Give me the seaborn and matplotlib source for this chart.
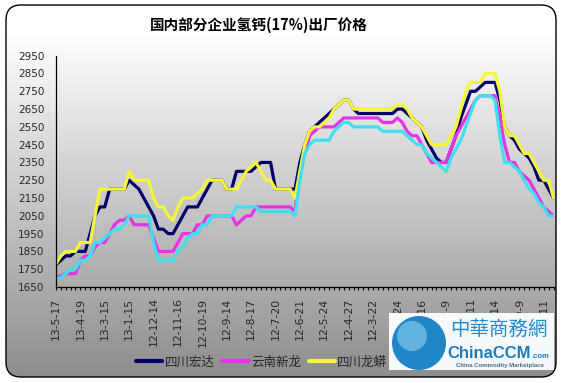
import numpy as np
import pandas as pd
import seaborn as sns
import matplotlib.pyplot as plt
from matplotlib.patches import FancyBboxPatch, Rectangle, Circle
from matplotlib.lines import Line2D

## Data (newest date first, as on the source chart)
date_labels = ['13-5-17', '13-4-19', '13-3-15', '13-1-15', '12-12-14', '12-11-16',
               '12-10-19', '12-9-14', '12-8-17', '12-7-20', '12-6-21', '12-5-24',
               '12-4-27', '12-3-22', '12-2-24', '12-1-16', '11-12-9', '11-11-11',
               '11-10-14', '11-9-9', '11-8-11']

hongda = [1775, 1800, 1825, 1825, 1850, 1850, 1850, 1950, 2050, 2100,
          2100, 2200, 2200, 2200, 2200, 2250, 2225, 2200, 2150, 2100,
          2050, 1975, 1975, 1950, 1950, 2000, 2050, 2100, 2100, 2100,
          2150, 2200, 2250, 2250, 2250, 2200, 2200, 2300, 2300, 2300,
          2300, 2325, 2350, 2350, 2350, 2200, 2200, 2200, 2200, 2200,
          2350, 2450, 2525, 2550, 2575, 2600, 2625, 2650, 2675, 2700,
          2700, 2650, 2625, 2625, 2625, 2625, 2625, 2625, 2625, 2625,
          2650, 2650, 2625, 2600, 2575, 2550, 2475, 2425, 2375, 2350,
          2350, 2425, 2500, 2600, 2675, 2750, 2750, 2775, 2800, 2800,
          2800, 2700, 2550, 2500, 2475, 2425, 2400, 2375, 2325, 2250,
          2250, 2200, 2150]

xinlong = [1710, 1710, 1725, 1725, 1725, 1800, 1825, 1825, 1875, 1900,
           1900, 1950, 2000, 2025, 2025, 2050, 2000, 2000, 2000, 2000,
           1925, 1850, 1850, 1850, 1850, 1900, 1950, 1950, 1950, 2000,
           2000, 2050, 2050, 2050, 2050, 2050, 2050, 2000, 2025, 2050,
           2050, 2100, 2100, 2100, 2100, 2100, 2100, 2100, 2100, 2075,
           2300, 2400, 2500, 2525, 2550, 2550, 2550, 2550, 2575, 2600,
           2600, 2600, 2600, 2600, 2600, 2600, 2600, 2575, 2575, 2575,
           2600, 2575, 2525, 2500, 2500, 2450, 2400, 2350, 2350, 2350,
           2350, 2425, 2500, 2550, 2600, 2650, 2700, 2725, 2725, 2725,
           2725, 2600, 2450, 2350, 2350, 2300, 2275, 2250, 2200, 2150,
           2100, 2075, 2050]

longmang = [1780, 1825, 1850, 1850, 1850, 1900, 1900, 1900, 2050, 2200,
            2200, 2200, 2200, 2200, 2200, 2300, 2250, 2250, 2250, 2250,
            2150, 2100, 2100, 2050, 2025, 2100, 2150, 2150, 2150, 2175,
            2200, 2250, 2250, 2250, 2250, 2200, 2200, 2200, 2250, 2300,
            2325, 2350, 2300, 2250, 2250, 2200, 2200, 2200, 2200, 2150,
            2300, 2450, 2525, 2550, 2550, 2575, 2600, 2650, 2675, 2700,
            2700, 2650, 2650, 2650, 2650, 2650, 2650, 2650, 2650, 2650,
            2675, 2675, 2650, 2600, 2575, 2550, 2500, 2450, 2450, 2450,
            2450, 2500, 2550, 2650, 2750, 2800, 2800, 2800, 2850, 2850,
            2850, 2750, 2550, 2500, 2500, 2450, 2400, 2400, 2350, 2300,
            2250, 2250, 2150]

# fourth series: its legend entry is hidden behind the watermark
series4 = [1700, 1700, 1725, 1750, 1750, 1800, 1800, 1825, 1900, 1900,
           1925, 1950, 1975, 1975, 2000, 2050, 2050, 2050, 2050, 2050,
           1900, 1800, 1800, 1800, 1800, 1850, 1875, 1925, 1950, 1950,
           2000, 2000, 2050, 2050, 2050, 2050, 2050, 2100, 2100, 2100,
           2100, 2100, 2075, 2075, 2075, 2075, 2075, 2075, 2075, 2050,
           2250, 2400, 2450, 2475, 2475, 2475, 2475, 2525, 2550, 2575,
           2575, 2550, 2550, 2550, 2550, 2550, 2550, 2525, 2525, 2525,
           2525, 2525, 2500, 2475, 2450, 2450, 2400, 2375, 2350, 2325,
           2300, 2375, 2425, 2475, 2550, 2625, 2700, 2725, 2725, 2725,
           2700, 2500, 2350, 2350, 2325, 2300, 2250, 2200, 2175, 2125,
           2100, 2050, 2050]

names = ['四川宏达', '云南新龙', '四川龙蟒', 'series4']
colors = ['#000066', '#e633e6', '#f5f53a', '#3fe0ee']

n = len(hongda)
df = pd.DataFrame({'idx': np.tile(np.arange(n), 4),
                   'price': hongda + xinlong + longmang + series4,
                   'company': np.repeat(names, n)})

sns.set_theme(style='white')
plt.rcParams['font.family'] = ['Noto Sans CJK SC', 'DejaVu Sans']

fig = plt.figure(figsize=(5.64, 3.83), dpi=100)

## gradient background inside rounded frame
bg = fig.add_axes([0, 0, 1, 1], zorder=0)
bg.set_axis_off()
bg.set_xlim(0, 564)
bg.set_ylim(383, 0)
shade = np.clip(1.0 - (np.arange(383) - 30) / 348 * 0.45, 0.55, 1.0)
img = bg.imshow(shade[:, None], extent=(0, 564, 383, 0), cmap='gray', vmin=0, vmax=1,
                aspect='auto')
frame = FancyBboxPatch((6, 5), 550, 372, boxstyle='round,pad=0,rounding_size=15',
                       facecolor='none', edgecolor='black', linewidth=1.0)
bg.add_patch(frame)
img.set_clip_path(frame)

fig.text(259 / 564, 1 - 24.5 / 383, '国内部分企业氢钙(17%)出厂价格', ha='center', va='center',
         fontsize=10.5, fontweight='bold', color='black')

## main plot
ax = fig.add_axes([55.5 / 564, 1 - 287 / 383, 498 / 564, (287 - 55.7) / 383], zorder=1)
ax.patch.set_alpha(0)
sns.lineplot(data=df, x='idx', y='price', hue='company', hue_order=names,
             palette=colors, linewidth=2.3, errorbar=None, legend=False, ax=ax)

ax.set_xlim(-0.1, n - 1)
ax.set_ylim(1650, 2950)
ax.set_yticks(np.arange(1650, 2951, 100))
ax.set_xticks(np.arange(0, n, 5))
ax.set_xticklabels(date_labels, rotation=90, family=['DejaVu Sans'])
ax.set_yticklabels([str(v) for v in range(1650, 2951, 100)], family=['DejaVu Sans'])
ax.set_xticks(np.arange(n), minor=True)
ax.tick_params(axis='x', which='both', direction='out', length=2.5, width=0.8,
               color='black', bottom=True, labelsize=7.8, pad=5)
ax.tick_params(axis='y', length=0, labelsize=7.5, pad=8)
ax.set_xlabel('')
ax.set_ylabel('')
for s in ['top', 'right']:
    ax.spines[s].set_visible(False)
for s in ['left', 'bottom']:
    ax.spines[s].set_color('black')
    ax.spines[s].set_linewidth(0.9)

## legend (three visible entries)
handles = [Line2D([], [], color=c, linewidth=3) for c in colors[:3]]
fig.legend(handles, names[:3], loc='center left', bbox_to_anchor=(131 / 564, 1 - 362 / 383),
           ncol=3, frameon=False, fontsize=9, handlelength=2.1, handletextpad=0.2,
           columnspacing=0.6, borderaxespad=0)

## watermark
ov = fig.add_axes([0, 0, 1, 1], zorder=3)
ov.set_axis_off()
ov.set_xlim(0, 564)
ov.set_ylim(383, 0)
ov.add_patch(Rectangle((389, 313), 165, 57, facecolor='#f6f9fc', edgecolor='none'))
ov.add_patch(Circle((419, 343), 27, facecolor='#1f86c8', edgecolor='none'))
ov.add_patch(Circle((412, 336), 15, facecolor='#8fd0f0', edgecolor='none', alpha=0.6))
ov.text(499, 329, '中華商務網', ha='center', va='center', fontsize=14,
        color='#1f8ad0', family=['Noto Sans CJK TC', 'DejaVu Sans'])
ov.text(447, 353, 'ChinaCCM', ha='left', va='center', fontsize=12, fontweight='bold',
        color='#1a7cc2', family=['Liberation Sans', 'DejaVu Sans'])
ov.text(532, 356, '.com', ha='left', va='center', fontsize=5.5, fontweight='bold',
        color='#1a7cc2', family=['Liberation Sans', 'DejaVu Sans'])
ov.text(500, 366, 'China Commodity Marketplace', ha='center', va='center', fontsize=4.3,
        fontweight='bold', color='#4a6a8a', family=['Liberation Sans', 'DejaVu Sans'])

fig.savefig('out.png', dpi=100)
